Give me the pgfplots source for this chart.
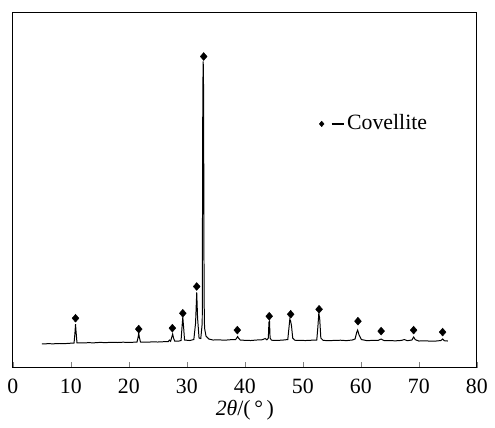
\documentclass[border=0pt]{standalone}
\usepackage{fontspec}
\setmainfont{Liberation Serif}
\usepackage{pgfplots}
\pgfplotsset{compat=1.18}
\begin{document}
\fontsize{22}{26}\selectfont
\begin{tikzpicture}
\path (-13pt,-54pt) rectangle (482pt,371pt);
\begin{axis}[
  at={(0pt,0pt)}, anchor=origin,
  scale only axis, width=468pt, height=358pt,
  xmin=0, xmax=80, ymin=0, ymax=358,
  xtick={0,10,...,80}, xtick pos=bottom, tick align=inside,
  major tick length=6pt,
  ytick=\empty,
  axis line style={line width=0.9pt},
  /pgf/number format/assume math mode=true,
  ticklabel style={font=\fontsize{22}{26}\selectfont},
  xticklabel style={yshift=-4pt},
  xlabel={\textit{2θ}/(\,°\,)},
  xlabel style={font=\fontsize{22}{26}\selectfont, yshift=8pt},
  legend style={draw=none, fill=none, at={(axis cs:52.8,246)}, anchor=west,
    inner xsep=0pt, font=\fontsize{22}{26}\selectfont},
  legend image code/.code={
    \path plot[mark=diamond*, mark size=2.8pt, black, mark options={xscale=1.15}] coordinates {(0pt,0pt)};
    \draw[black, line width=1.3pt] (10pt,0pt) -- (23pt,0pt);
  },
]
\addplot[black, line width=1pt, forget plot] coordinates {
(5.0,24) (6.0,24.3) (7.0,24.2) (8.0,24.5) (9.0,24.4) (10.0,24.8) (10.55,25)
(10.7,35) (10.8,44) (10.9,36) (11.05,25.2) (12.0,25.1) (13.0,25.3) (14.0,25.2)
(15.0,25.6) (16.0,25.4) (17.0,25.7) (18.0,25.5) (19.0,25.8) (20.0,25.6) (21.4,25.9)
(21.6,31) (21.7,35) (21.8,31) (22.0,26) (23.0,25.8) (24.0,26.1) (25.0,26) (26.0,26.3)
(26.8,26.5) (27.0,28) (27.2,26.8) (27.4,31) (27.55,34) (27.7,30) (27.9,27) (28.5,26.8)
(29.0,27.5) (29.15,40) (29.3,51) (29.45,40) (29.6,28) (30.5,27.5) (31.2,28.5)
(31.5,45) (31.7,76) (31.85,50) (32.1,30) (32.4,29.5) (32.65,45) (32.75,281) (32.82,309)
(32.88,281) (32.97,70) (33.05,40) (33.3,32) (33.8,29) (34.5,28) (35.5,28.2) (36.5,27.8)
(37.5,28.3) (38.4,28.5) (38.6,30) (38.75,31.5) (38.9,30) (39.2,28) (40.0,27.7)
(41.0,27.5) (42.0,28) (43.0,28.3) (43.5,29.5) (43.8,28.2) (44.05,30) (44.15,46)
(44.25,47) (44.35,30) (44.6,27.8) (45.5,27.6) (46.5,27.9) (47.4,28.5) (47.6,40)
(47.75,49) (47.9,47) (48.05,42) (48.25,30) (48.6,27.8) (49.5,27.6) (50.5,27.5)
(51.5,27.8) (52.4,28) (52.6,42) (52.75,55) (52.9,50) (53.1,30) (53.5,27.6) (54.5,27.4)
(55.5,27.6) (56.5,27.8) (57.5,27.4) (58.5,28) (59.0,29) (59.3,36) (59.45,38) (59.7,33)
(60.1,28.5) (61.0,27.4) (62.0,27.6) (63.0,27.6) (63.3,28.5) (63.5,29) (63.7,28.3)
(64.0,27.5) (65.0,27.4) (66.0,27.2) (67.0,27.6) (67.5,28.5) (68.0,27.3) (68.8,28)
(69.1,31) (69.4,28.3) (70.0,27) (71.0,27.2) (72.0,26.9) (73.0,27) (73.8,27.5)
(74.1,29) (74.4,27.3) (75.0,27)
};
\addplot[only marks, mark=diamond*, mark size=4pt, black, mark options={xscale=1.15}] coordinates {
(10.8,50) (21.7,39) (27.5,40) (29.3,55) (31.7,82) (32.9,314) (38.7,38) (44.2,52)
(47.9,54) (52.8,59) (59.5,47) (63.5,37) (69.1,38) (74.1,36)
};
\addlegendentry{Covellite}
\end{axis}
\end{tikzpicture}
\end{document}
